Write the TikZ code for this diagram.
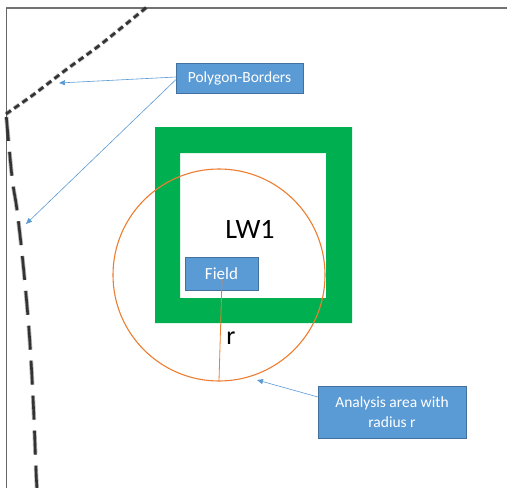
\documentclass[tikz,border=0pt]{standalone}
\usepackage{fontspec}
\setmainfont{Carlito}
\usetikzlibrary{arrows.meta}
\definecolor{boxblue}{HTML}{5B9BD5}
\definecolor{boxedge}{HTML}{41719C}
\definecolor{wallgreen}{HTML}{00B050}
\definecolor{areaorange}{HTML}{ED7D31}
\tikzset{
  callout/.style={draw=boxedge, line width=0.8pt, fill=boxblue, text=white,
    inner sep=0pt, outer sep=0pt, font=\fontsize{15.5}{19.5}\selectfont, align=center},
  pointer/.style={draw=boxblue, line width=0.6pt, -{Triangle[length=6pt,width=5pt]}},
  border/.style={line width=2.6pt, draw=black!80, dash pattern=on #1},
  borderhaze/.style={line width=4.2pt, draw=black!80, opacity=0.35, dash pattern=on #1},
}
\begin{document}
\begin{tikzpicture}[x=1pt, y=-1pt]
  \useasboundingbox (0,0) rectangle (507,488);
  \fill[white] (0,0) rectangle (507,488);

  % sheet edges
  \draw[black!55, line width=1.6pt] (6,8) -- (507,8);
  \draw[black!60, line width=0.9pt] (6,8) -- (6,488);

  % polygon borders (dashed)
  \foreach \sty in {borderhaze, border} {
    \draw[\sty={6pt off 4pt}] plot[smooth, tension=0.4] coordinates
      {(6,114) (33,95) (67,69) (100,45) (147,7)};
    \draw[\sty={24pt off 11pt}, dash phase=-4pt] plot[smooth, tension=0.6] coordinates
      {(6,113) (12,177) (17,210) (23,263) (29,330) (33,397) (36,470) (37,490)};
  }

  % green frame of LW1
  \fill[wallgreen, even odd rule] (155,127) rectangle (352,323) (180,153) rectangle (326,298);
  \node[font=\fontsize{28}{30}\selectfont] (lw) at (250,229) {LW1};

  % analysis area
  \node[circle, draw=areaorange, line width=1.1pt, minimum size=212pt, inner sep=0pt, outer sep=0pt] (area) at (219,275) {};
  \node[callout, minimum width=73pt, minimum height=33pt, font=\fontsize{17}{19}\selectfont] (field) at (221.5,273.5) {Field};
  \coordinate (rtop) at (222,279);
  \draw[areaorange, line width=0.8pt] (rtop) -- (area.south);
  \node[font=\fontsize{26}{28}\selectfont] (rlab) at (231,338) {r};

  % callouts
  \node[callout, minimum width=127pt, minimum height=30pt] (pb) at (239.5,78) {Polygon-Borders};
  \node[callout, minimum width=148pt, minimum height=52pt] (an) at (392,412) {Analysis area with\\radius r};

  \coordinate (tipA) at (59,83);
  \coordinate (tipB) at (26,224);
  \coordinate (tipC) at (257,380);
  \draw[pointer] ([yshift=1pt]pb.west) -- (tipA);
  \draw[pointer] ([yshift=-1.5pt]pb.west) -- (tipB);
  \draw[pointer] ([yshift=15pt]an.west) -- (tipC);
\end{tikzpicture}
\end{document}
